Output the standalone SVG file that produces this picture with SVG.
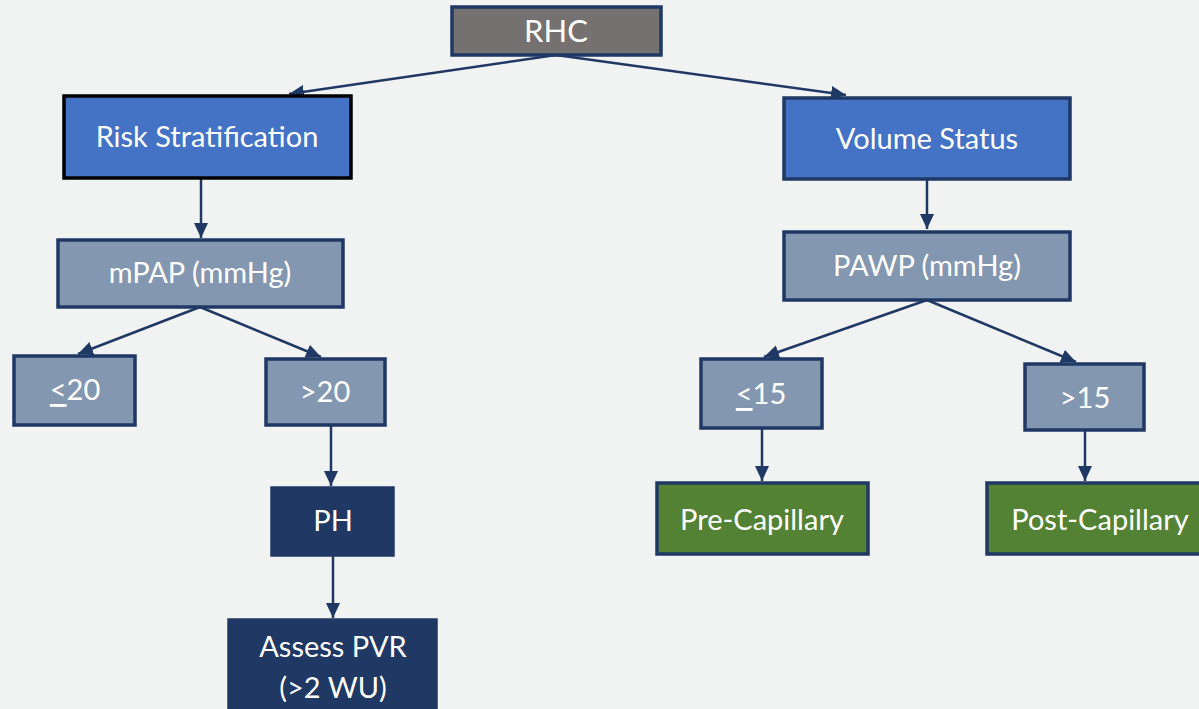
<svg xmlns="http://www.w3.org/2000/svg" width="1199" height="709" viewBox="0 0 1199 709">
<style>
.bg{fill:#f1f2f2}
.box{stroke:#1f3864;stroke-width:3.5}
.slate{fill:#8497b0}
.blue{fill:#4472c4}
.navy{fill:#203864}
.green{fill:#548235}
.gray{fill:#767171}
.t{font-family:Lato,"Open Sans","Liberation Sans",sans-serif;font-size:29px;fill:#ffffff;text-anchor:middle;dominant-baseline:central}
.c{stroke:#1f3864;stroke-width:2.5;fill:none;marker-end:url(#ah)}
</style>
<defs>
<marker id="ah" markerUnits="userSpaceOnUse" markerWidth="16" markerHeight="16" refX="15" refY="8" orient="auto" viewBox="0 0 16 16">
<path d="M0,1 L15,8 L0,15 z" fill="#1f3864"/>
</marker>
</defs>
<rect class="bg" x="0" y="0" width="1199" height="709"/>
<g id="connectors">
<line class="c" x1="556" y1="55" x2="289" y2="94"/>
<line class="c" x1="556" y1="55" x2="846" y2="95"/>
<line class="c" x1="201" y1="178" x2="201" y2="238"/>
<line class="c" x1="927" y1="179" x2="927" y2="229"/>
<line class="c" x1="200" y1="307" x2="78" y2="354"/>
<line class="c" x1="200" y1="307" x2="321" y2="357"/>
<line class="c" x1="331" y1="426" x2="331" y2="486"/>
<line class="c" x1="333" y1="556" x2="333" y2="618"/>
<line class="c" x1="927" y1="300" x2="764" y2="357"/>
<line class="c" x1="927" y1="300" x2="1076" y2="362"/>
<line class="c" x1="762" y1="429" x2="762" y2="481"/>
<line class="c" x1="1085" y1="431" x2="1085" y2="481"/>
</g>
<g id="rhc">
<rect class="box gray" x="452" y="7" width="209" height="48"/>
<text class="t" x="556" y="30" style="font-size:31px">RHC</text>
</g>
<g id="risk">
<rect class="blue" x="64" y="96" width="287" height="82" stroke="#000" stroke-width="3.5"/>
<text class="t" x="207" y="135">Risk Stratification</text>
</g>
<g id="volume">
<rect class="box blue" x="784" y="98" width="286" height="81"/>
<text class="t" x="927" y="137">Volume Status</text>
</g>
<g id="mpap">
<rect class="box slate" x="58" y="240" width="285" height="67"/>
<text class="t" x="200" y="271">mPAP (mmHg)</text>
</g>
<g id="pawp">
<rect class="box slate" x="784" y="232" width="286" height="68"/>
<text class="t" x="927" y="264">PAWP (mmHg)</text>
</g>
<g id="le20">
<rect class="box slate" x="14" y="356" width="121" height="69"/>
<text class="t" x="75" y="388"><tspan text-decoration="underline">&lt;</tspan>20</text>
</g>
<g id="gt20">
<rect class="box slate" x="266" y="359" width="119" height="66"/>
<text class="t" x="325" y="390">&gt;20</text>
</g>
<g id="ph">
<rect class="box navy" x="272" y="488" width="121" height="67"/>
<text class="t" x="333" y="519">PH</text>
</g>
<g id="pvr">
<rect class="box navy" x="229" y="620" width="207" height="95"/>
<text class="t" x="333" y="645">Assess PVR</text>
<text class="t" x="333" y="686">(&gt;2 WU)</text>
</g>
<g id="le15">
<rect class="box slate" x="701" y="359" width="121" height="69"/>
<text class="t" x="761" y="392"><tspan text-decoration="underline">&lt;</tspan>15</text>
</g>
<g id="gt15">
<rect class="box slate" x="1025" y="364" width="119" height="66"/>
<text class="t" x="1085" y="396">&gt;15</text>
</g>
<g id="pre">
<rect class="box green" x="657" y="483" width="211" height="71"/>
<text class="t" x="762" y="518">Pre-Capillary</text>
</g>
<g id="post">
<rect class="box green" x="987" y="483" width="226" height="71"/>
<text class="t" x="1100" y="518">Post-Capillary</text>
</g>
</svg>
